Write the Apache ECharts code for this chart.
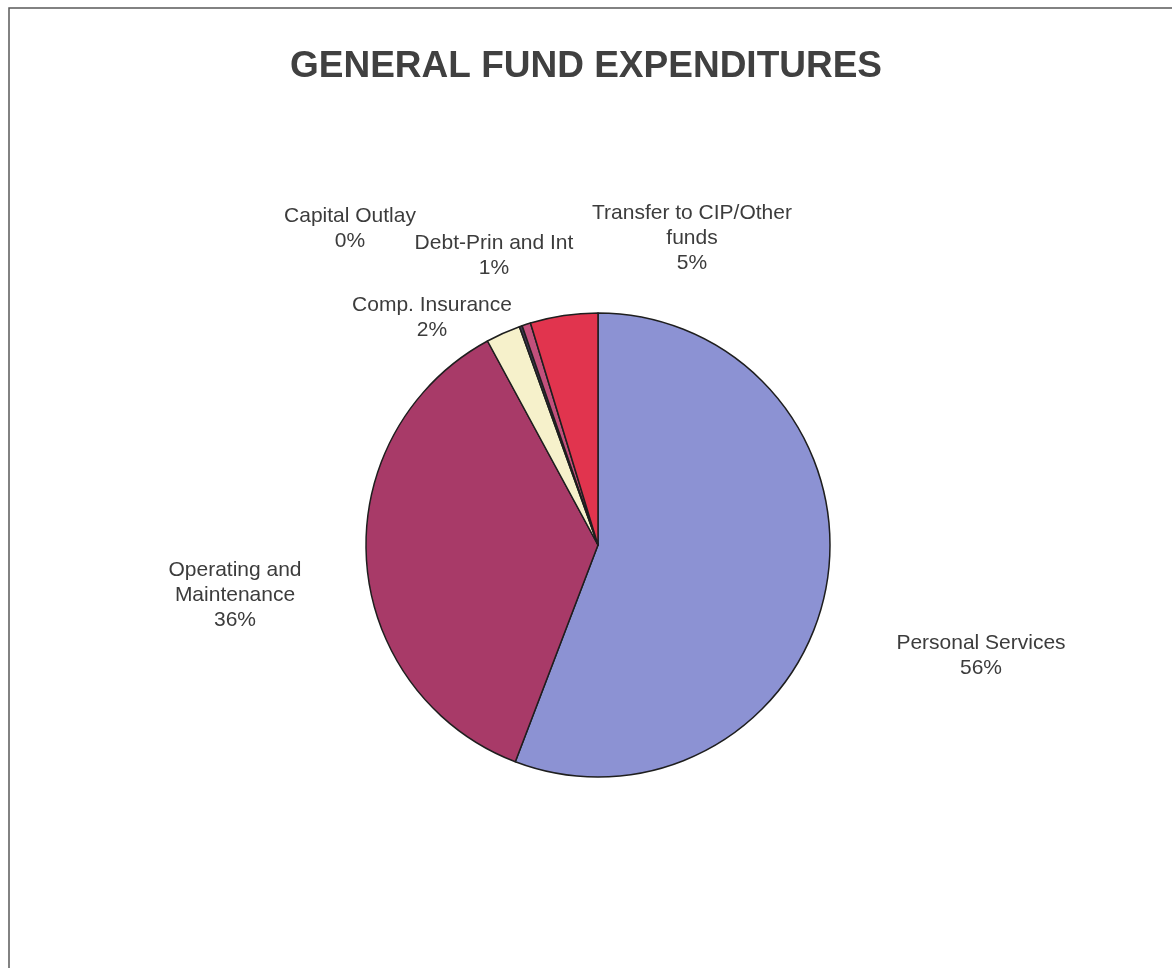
<!DOCTYPE html>
<html>
<head>
<meta charset="utf-8">
<title>General Fund Expenditures</title>
<script src="https://cdn.jsdelivr.net/npm/echarts@6/dist/echarts.min.js"></script>
<style>
  html, body { margin: 0; padding: 0; background: #ffffff; }
  #chart { width: 1172px; height: 968px; }
</style>
</head>
<body>
<div id="chart"></div>
<script>
// Expenditure categories, clockwise from 12 o'clock
const categories = [
  'Personal Services',
  'Operating and\nMaintenance',
  'Comp. Insurance',
  'Capital Outlay',
  'Debt-Prin and Int',
  'Transfer to CIP/Other\nfunds'
];
// Share of the general fund, in percent
const shares = [55.8, 36.3, 2.4, 0.2, 0.6, 4.7];

// Slice fills, same order as categories
const sliceColors = ['#8C92D3', '#A83A68', '#F6F1CB', '#3C3550', '#C2507C', '#E1344E'];
// Label block centres (px), same order as categories
const labelCentres = [
  [981, 656],
  [235, 595],
  [432, 318],
  [350, 229],
  [494, 256],
  [692, 238]
];

const chart = echarts.init(document.getElementById('chart'), null, { renderer: 'canvas' });

chart.setOption({
  backgroundColor: '#ffffff',
  animation: false,
  title: {
    text: 'GENERAL FUND EXPENDITURES',
    left: 'center',
    top: 43,
    textStyle: {
      fontFamily: '"Liberation Sans", Arial, sans-serif',
      fontWeight: 'bold',
      fontSize: 37,
      color: '#404040'
    }
  },
  graphic: [{
    type: 'rect',
    silent: true,
    shape: { x: 9, y: 8, width: 1300, height: 1100 },
    style: { fill: null, stroke: '#5a5a5a', lineWidth: 1.5 }
  }],
  series: [{
    type: 'pie',
    center: [598, 545],
    radius: 232,
    startAngle: 90,
    clockwise: true,
    avoidLabelOverlap: false,
    percentPrecision: 0,
    itemStyle: { borderColor: '#1e1e1e', borderWidth: 1.5 },
    emphasis: { disabled: true },
    label: {
      show: true,
      position: 'outside',
      formatter: '{b}\n{d}%',
      fontFamily: '"Liberation Sans", Arial, sans-serif',
      fontSize: 21,
      lineHeight: 25,
      color: '#3c3c3c',
      align: 'center'
    },
    labelLine: { show: false },
    labelLayout: function (params) {
      const c = labelCentres[params.dataIndex];
      return { x: c[0], y: c[1], align: 'center', verticalAlign: 'middle', hideOverlap: false };
    },
    data: categories.map(function (name, i) {
      return { name: name, value: shares[i], itemStyle: { color: sliceColors[i] } };
    })
  }]
});
</script>
</body>
</html>
